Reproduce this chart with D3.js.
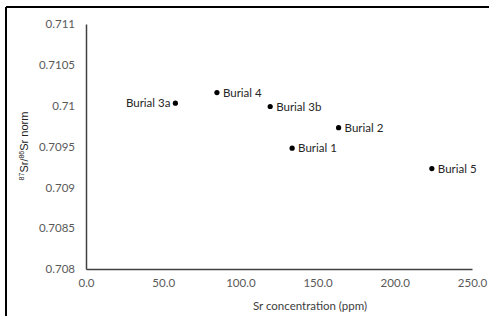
<!DOCTYPE html>
<html><head><meta charset="utf-8">
<script src="https://cdn.jsdelivr.net/npm/d3@7"></script>
<style>body{margin:0;background:#fff}svg{display:block}</style>
</head><body>
<svg id="c" width="489" height="316"></svg>
<script>
const labels = ["Burial 3a","Burial 4","Burial 3b","Burial 2","Burial 1","Burial 5"];
const srConc = [57.9, 84.8, 119.3, 163.6, 133.5, 224.0];
const srRatio = [0.71003, 0.71016, 0.70999, 0.70973, 0.70948, 0.70923];
const xTicks = [0, 50, 100, 150, 200, 250];
const yTicks = [0.708, 0.7085, 0.709, 0.7095, 0.71, 0.7105, 0.711];

const svg = d3.select("#c");
const font = "Lato, 'Open Sans', sans-serif";
const x = d3.scaleLinear().domain([0,250]).range([86,472]);
const y = d3.scaleLinear().domain([0.708,0.711]).range([269,24]);

// frame
svg.append("line").attr("x1",6).attr("x2",489).attr("y1",7).attr("y2",7).attr("stroke","#000").attr("stroke-width",2);
svg.append("line").attr("x1",6).attr("x2",6).attr("y1",7).attr("y2",316).attr("stroke","#000").attr("stroke-width",2);

const xAxis = svg.append("g").attr("transform","translate(0,269)")
  .call(d3.axisBottom(x).tickValues(xTicks).tickSize(0).tickPadding(10).tickFormat(d3.format(".1f")));
const yAxis = svg.append("g").attr("transform","translate(86,0)")
  .call(d3.axisLeft(y).tickValues(yTicks).tickSize(0).tickPadding(11).tickFormat(d => String(+d.toFixed(4))));
[xAxis,yAxis].forEach(g=>{
  g.select(".domain").attr("stroke","#404040").attr("stroke-width",1.5);
  g.selectAll("text").attr("font-family",font).attr("font-size",11.5).attr("fill","#595959");
});

// points
const data = labels.map((l,i)=>({l, x:srConc[i], y:srRatio[i]}));
svg.append("g").selectAll("circle").data(data).join("circle")
  .attr("cx",d=>x(d.x)).attr("cy",d=>y(d.y)).attr("r",2.6).attr("fill","#000");
svg.append("g").selectAll("text").data(data).join("text")
  .attr("x",d=>x(d.x) + (d.l==="Burial 3a" ? -5 : 6))
  .attr("y",d=>y(d.y)).attr("dy","0.35em")
  .attr("text-anchor",d=>d.l==="Burial 3a"?"end":"start")
  .attr("font-family",font).attr("font-size",11.5).attr("fill","#262626")
  .text(d=>d.l);

// axis titles
svg.append("text").attr("x",310).attr("y",310).attr("text-anchor","middle")
  .attr("font-family",font).attr("font-size",11.5).attr("fill","#404040")
  .text("Sr concentration (ppm)");
const yt = svg.append("text").attr("transform","translate(28,146) rotate(-90)")
  .attr("text-anchor","middle").attr("font-family","'Liberation Sans', Arial, sans-serif")
  .attr("font-size",11).attr("fill","#222");
yt.append("tspan").attr("font-size",7).attr("dy",-4).text("87");
yt.append("tspan").attr("dy",4).text("Sr/");
yt.append("tspan").attr("font-size",7).attr("dy",-4).text("86");
yt.append("tspan").attr("dy",4).text("Sr norm");
</script>
</body></html>
